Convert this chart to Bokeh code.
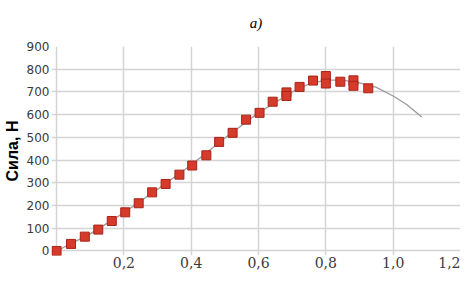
from bokeh.plotting import figure
from bokeh.embed import file_html
from bokeh.resources import INLINE
from bokeh.models import Range1d, FixedTicker, CustomJSTickFormatter, Title

# measured points (displacement, force)
disp = [0.0, 0.043, 0.084, 0.124, 0.164, 0.204, 0.244, 0.284, 0.324, 0.365, 0.403,
        0.445, 0.483, 0.523, 0.563, 0.603, 0.642, 0.683, 0.683, 0.722, 0.762,
        0.800, 0.800, 0.843, 0.882, 0.882, 0.926]
force = [0, 31, 63, 94, 132, 170, 210, 258, 295, 336, 376,
         421, 480, 520, 578, 608, 657, 698, 682, 722, 750,
         770, 737, 745, 751, 727, 716]

# trend curve
curve_x = [0.0, 0.1, 0.2, 0.3, 0.4, 0.5, 0.6, 0.7, 0.75, 0.8, 0.85, 0.9, 0.95, 1.0, 1.04, 1.085]
curve_y = [0, 75, 168, 272, 378, 497, 608, 700, 735, 752, 752, 740, 720, 682, 645, 590]

x_ticks = [0.2, 0.4, 0.6, 0.8, 1.0, 1.2]
x_grid = [0.0, 0.2, 0.4, 0.6, 0.8, 1.0, 1.2]
y_ticks = [0, 100, 200, 300, 400, 500, 600, 700, 800, 900]
title_text = "a)"

p = figure(width=460, height=270, output_backend="svg", toolbar_location=None,
           x_range=Range1d(-0.015, 1.2), y_range=Range1d(-20, 900),
           min_border_left=43, min_border_right=0, min_border_top=38, min_border_bottom=0)
p.outline_line_color = None
p.background_fill_color = "white"
p.border_fill_color = "white"

t = Title(text=title_text, align="center", vertical_align="top", text_font="Liberation Serif",
          text_font_style="italic", text_font_size="15px", text_color="#000000",
          standoff=28)
p.add_layout(t, "above")

p.xgrid.ticker = FixedTicker(ticks=x_grid)
p.xgrid.grid_line_color = "#d4d4d4"
p.ygrid.grid_line_color = "#d4d4d4"
p.xgrid.grid_line_width = 1.5
p.ygrid.grid_line_width = 1.5

p.xaxis.ticker = FixedTicker(ticks=x_ticks)
p.yaxis.ticker = FixedTicker(ticks=y_ticks)
p.xaxis.formatter = CustomJSTickFormatter(code="return tick.toFixed(1).replace('.', ',');")

for ax in (p.xaxis[0], p.yaxis[0]):
    ax.major_tick_line_color = None
    ax.minor_tick_line_color = None
    ax.major_tick_out = 0
    ax.major_tick_in = 0
    ax.minor_tick_out = 0
    ax.minor_tick_in = 0
    ax.axis_line_color = None
    ax.major_label_text_color = "#3a3a3a"

p.xaxis.major_label_text_font = "DejaVu Serif"
p.xaxis.major_label_text_font_size = "14px"
p.xaxis.major_label_standoff = 1
p.yaxis.major_label_text_font = "DejaVu Sans"
p.yaxis.major_label_text_font_size = "12px"
p.yaxis.major_label_standoff = 2

p.yaxis.axis_label = "Сила, Н"
p.yaxis.axis_label_text_font = "Liberation Sans"
p.yaxis.axis_label_text_font_style = "bold"
p.yaxis.axis_label_text_font_size = "16px"
p.yaxis.axis_label_text_color = "#000000"
p.yaxis.axis_label_standoff = 3

p.line(curve_x, curve_y, line_color="#9a9a9a", line_width=1.3)
p.scatter(disp, force, marker="square", size=9, fill_color="#d63a2b",
          line_color="#a82318", line_width=1)

open("out.html", "w").write(file_html(p, INLINE))
